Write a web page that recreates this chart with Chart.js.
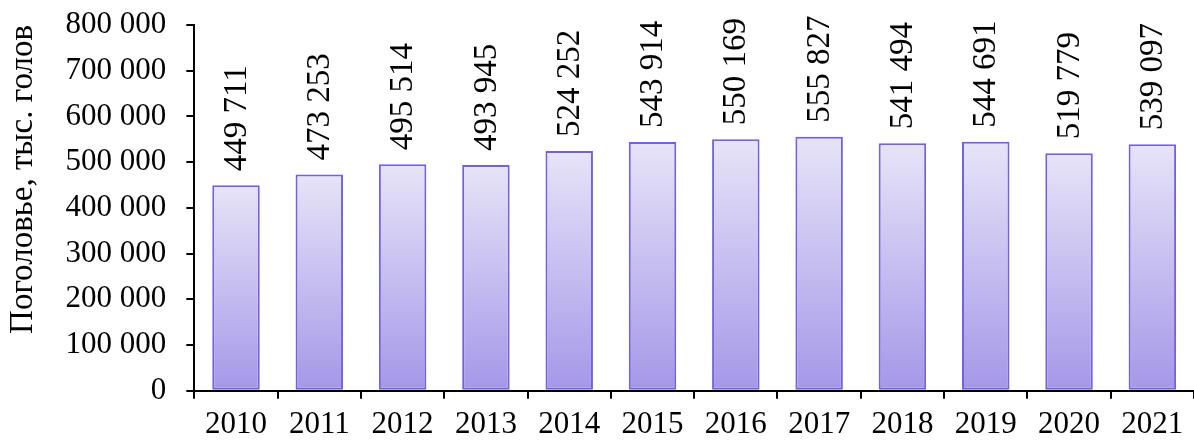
<!DOCTYPE html>
<html>
<head>
<meta charset="utf-8">
<script src="https://cdn.jsdelivr.net/npm/chart.js@4"></script>
<style>
  html, body { margin: 0; padding: 0; background: #fff; overflow: hidden; }
  #wrap { width: 1194px; height: 441px; }
</style>
</head>
<body>
<div id="wrap"><canvas id="chart" width="1194" height="441"></canvas></div>
<script>
const years = ["2010", "2011", "2012", "2013", "2014", "2015", "2016", "2017", "2018", "2019", "2020", "2021"];
const heads = [449711, 473253, 495514, 493945, 524252, 543914, 550169, 555827, 541494, 544691, 519779, 539097];
const yTitle = "Поголовье, тыс. голов";

const FONT = "'Liberation Serif', 'Times New Roman', serif";

// 449711 -> "449 711"
function fmt(v) {
  return String(Math.round(v)).replace(/\B(?=(\d{3})+(?!\d))/g, " ");
}

// gradient per bar: light at the top, darker at the base
function barFill(ctx) {
  const chart = ctx.chart;
  const y = chart.scales.y;
  if (!chart.chartArea || !y || ctx.dataIndex === undefined) return "#c4bdf0";
  const top = y.getPixelForValue(ctx.raw);
  const bottom = y.getPixelForValue(0);
  const g = chart.ctx.createLinearGradient(0, top, 0, bottom);
  g.addColorStop(0, "#e7e4f8");
  g.addColorStop(1, "#a597e8");
  return g;
}

const valueLabels = {
  id: "valueLabels",
  afterDatasetsDraw(chart) {
    const c = chart.ctx;
    const meta = chart.getDatasetMeta(0);
    c.save();
    c.font = "33px " + FONT;
    c.fillStyle = "#000";
    c.textAlign = "left";
    c.textBaseline = "middle";
    meta.data.forEach((bar, i) => {
      c.save();
      c.translate(bar.x, bar.y - 14);
      c.rotate(-Math.PI / 2);
      c.fillText(fmt(heads[i]), 0, 1);
      c.restore();
    });
    c.restore();
  }
};

new Chart(document.getElementById("chart"), {
  type: "bar",
  data: {
    labels: years,
    datasets: [{
      data: heads,
      backgroundColor: barFill,
      borderColor: "#7262de",
      borderWidth: 2,
      borderSkipped: false,
      categoryPercentage: 1,
      barPercentage: 0.57,
    }],
  },
  options: {
    responsive: false,
    animation: false,
    devicePixelRatio: 1,
    layout: { padding: { top: 25, right: -8, left: 0, bottom: -9 } },
    plugins: {
      legend: { display: false },
      tooltip: { enabled: false },
    },
    scales: {
      x: {
        grid: { drawOnChartArea: false, drawTicks: true, tickLength: 8, color: "#000", lineWidth: 2, offset: true },
        border: { display: true, color: "#000", width: 2 },
        ticks: { color: "#000", font: { family: FONT, size: 31 }, padding: 7, maxRotation: 0, autoSkip: false },
      },
      y: {
        min: 0,
        max: 800000,
        grid: { drawOnChartArea: false, drawTicks: true, tickLength: 8, color: "#000", lineWidth: 2 },
        border: { display: true, color: "#000", width: 2 },
        ticks: {
          stepSize: 100000,
          color: "#000",
          font: { family: FONT, size: 31 },
          padding: 20,
          callback: (v) => fmt(v),
        },
        // the label padding should not push the plot down
        afterFit: (s) => { s.paddingTop = 0; s.paddingBottom = 0; },
        title: {
          display: true,
          text: yTitle,
          align: "end",
          color: "#000",
          font: { family: FONT, size: 33 },
          padding: { top: 4, bottom: 2 },
        },
      },
    },
  },
  plugins: [valueLabels],
});
</script>
</body>
</html>
